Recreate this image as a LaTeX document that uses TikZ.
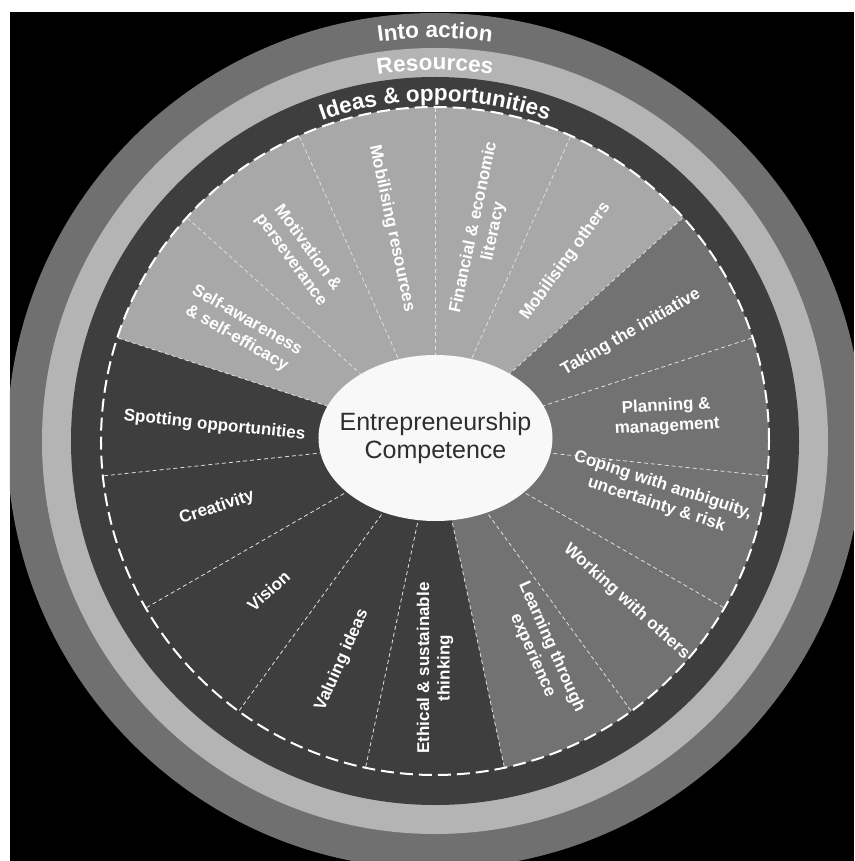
\documentclass[tikz,border=0pt]{standalone}
\usepackage{fontspec}
\setmainfont{Liberation Sans}
\usetikzlibrary{decorations.text}
\definecolor{ringout}{HTML}{707070}
\definecolor{ringres}{HTML}{B4B4B4}
\definecolor{ringidea}{HTML}{3E3E3E}
\definecolor{secres}{HTML}{A8A8A8}
\definecolor{secact}{HTML}{727272}
\definecolor{corefill}{HTML}{F8F8F8}
\definecolor{coreink}{HTML}{2E2E2E}
\newcommand\ringtextfont{\color{white}\bfseries\fontsize{22.5}{22.5}\selectfont}
\begin{document}
\begin{tikzpicture}[x=1pt,y=1pt,
  seclabel/.style={text=white, font=\bfseries\fontsize{17}{20.5}\selectfont, align=center, inner sep=0pt},
  secline/.style={draw=white!88!black, line width=0.8pt, dash pattern=on 4pt off 3pt},
  rimdash/.style={draw=white, line width=2pt, dash pattern=on 13pt off 6pt},
  coretext/.style={text=coreink, font=\fontsize{25}{28}\selectfont, align=center, inner sep=0pt},
  ringtext/.style={decorate, decoration={text along path, text align=center, text={#1}}}
]
\useasboundingbox (-435,-420) rectangle (419,441);
\fill[white] (-435,-420) rectangle (419,441);
\fill[black] (-425,-420) rectangle (419,429);
\begin{scope}
  \clip (-425,-420) rectangle (419,429);
  \fill[ringout] (0,0) circle[radius=428];
\end{scope}
\fill[ringres] (0,0) circle[radius=393];
\fill[ringidea] (0,0) circle[radius=364];
\fill[secres] (0,0) -- (42:334) arc[start angle=42,end angle=162,radius=334] -- cycle;
\fill[secact] (0,0) -- (-78:334) arc[start angle=-78,end angle=42,radius=334] -- cycle;
\foreach \a in {42,66,...,378} \draw[secline] (0,0) -- (\a:334);
\draw[rimdash] (0,0) circle[radius=334];
\fill[corefill] (0.5,3) ellipse[x radius=117,y radius=83];
\node[coretext] (core) at (0.5,2.5) {Entrepreneurship\\Competence};

\node[seclabel, rotate=-78] (mobres) at (101.5:217) {Mobilising resources};
\node[seclabel, rotate=-54] (motiv) at (126:231) {Motivation \&\\perseverance};
\node[seclabel, rotate=-30] (selfaw) at (150:223) {Self-awareness\\\& self-efficacy};
\node[seclabel, rotate=-6] (spot) at (176:221) {Spotting opportunities};
\node[seclabel, rotate=18] (creat) at (-163:228) {Creativity};
\node[seclabel, rotate=42] (vision) at (-138:224) {Vision};
\node[seclabel, rotate=66] (valu) at (-113:238) {Valuing ideas};
\node[seclabel, rotate=90] (ethic) at (-90:227) {Ethical \& sustainable\\thinking};
\node[seclabel, rotate=-66] (learn) at (-63:236) {Learning through\\experience};
\node[seclabel, rotate=-42] (work) at (-40:250) {Working with others};
\node[seclabel, rotate=-18] (coping) at (-13.5:231) {Coping with ambiguity,\\uncertainty \& risk};
\node[seclabel, rotate=3] (plan) at (6:233) {Planning \&\\management};
\node[seclabel, rotate=30] (taking) at (29:224) {Taking the initiative};
\node[seclabel, rotate=54] (mobot) at (54:222) {Mobilising others};
\node[seclabel, rotate=78] (finan) at (77:217) {Financial \& economic\\literacy};

\path[ringtext={|\ringtextfont|Into action}] (150:403) arc[start angle=150,end angle=30,radius=403];
\path[ringtext={|\ringtextfont|Resources}] (150:371) arc[start angle=150,end angle=30,radius=371];
\path[ringtext={|\ringtextfont|Ideas {\&} opportunities}] (150:340) arc[start angle=150,end angle=30,radius=340];
\end{tikzpicture}
\end{document}
